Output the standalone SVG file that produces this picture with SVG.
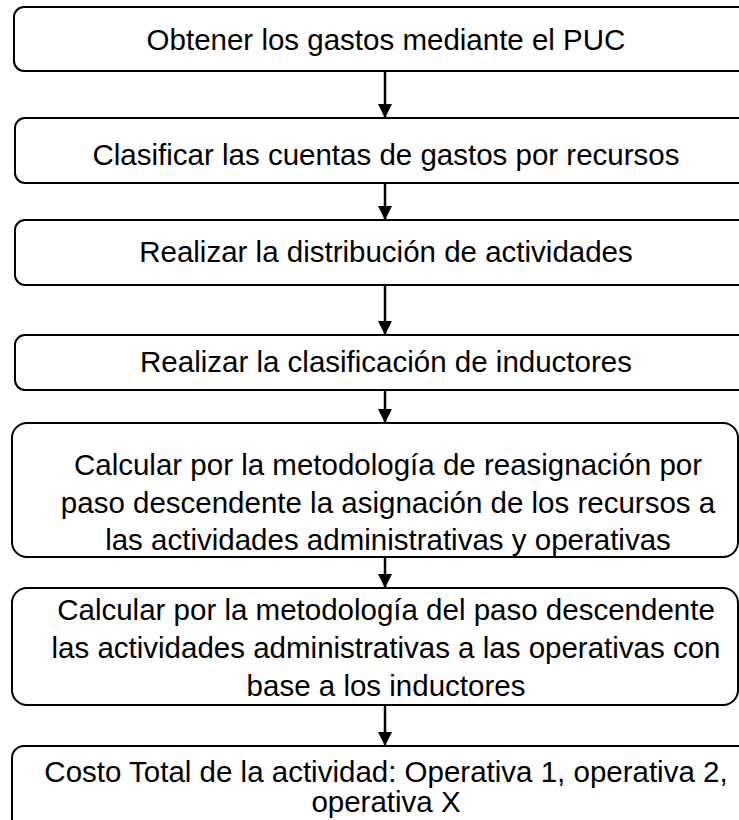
<svg xmlns="http://www.w3.org/2000/svg" width="739" height="820" viewBox="0 0 739 820">
<defs>
<style>
.box{fill:#ffffff;stroke:#000000;stroke-width:2}
.t{font-family:"Liberation Sans",Arial,sans-serif;font-size:29.5px;fill:#000000;text-anchor:middle}
.c{stroke:#000000;stroke-width:2.5;fill:none}
</style>
<marker id="ah" viewBox="0 0 14 18" refX="14" refY="9" markerWidth="14" markerHeight="18" markerUnits="userSpaceOnUse" orient="auto">
<path d="M0,2 L14,9 L0,16 Z" fill="#000000"/>
</marker>
</defs>
<rect width="739" height="820" fill="#ffffff"/>
<g id="connectors">
<line class="c" x1="385" y1="71" x2="385" y2="118" marker-end="url(#ah)"/>
<line class="c" x1="385" y1="183" x2="385" y2="220" marker-end="url(#ah)"/>
<line class="c" x1="385" y1="285" x2="385" y2="335" marker-end="url(#ah)"/>
<line class="c" x1="385" y1="390" x2="385" y2="423" marker-end="url(#ah)"/>
<line class="c" x1="385" y1="557" x2="385" y2="588" marker-end="url(#ah)"/>
<line class="c" x1="385" y1="705" x2="385" y2="746" marker-end="url(#ah)"/>
</g>
<g id="n1">
<rect class="box" x="14" y="7" width="760" height="64" rx="10"/>
<text class="t" x="386" y="50">Obtener los gastos mediante el PUC</text>
</g>
<g id="n2">
<rect class="box" x="15" y="118" width="760" height="65" rx="10"/>
<text class="t" x="386" y="165">Clasificar las cuentas de gastos por recursos</text>
</g>
<g id="n3">
<rect class="box" x="15" y="220" width="760" height="65" rx="10"/>
<text class="t" x="386" y="262">Realizar la distribución de actividades</text>
</g>
<g id="n4">
<rect class="box" x="15" y="335" width="760" height="55" rx="10"/>
<text class="t" x="386" y="372">Realizar la clasificación de inductores</text>
</g>
<g id="n5">
<rect class="box" x="12" y="423" width="726" height="134" rx="15"/>
<text class="t" x="388" y="475">Calcular por la metodología de reasignación por</text>
<text class="t" x="388" y="513">paso descendente la asignación de los recursos a</text>
<text class="t" x="388" y="550">las actividades administrativas y operativas</text>
</g>
<g id="n6">
<rect class="box" x="12" y="588" width="726" height="117" rx="15"/>
<text class="t" x="386" y="620">Calcular por la metodología del paso descendente</text>
<text class="t" x="386" y="658">las actividades administrativas a las operativas con</text>
<text class="t" x="386" y="696">base a los inductores</text>
</g>
<g id="n7">
<rect class="box" x="12" y="746" width="760" height="100" rx="12"/>
<text class="t" x="386" y="782">Costo Total de la actividad: Operativa 1, operativa 2,</text>
<text class="t" x="386" y="812">operativa X</text>
</g>
</svg>
